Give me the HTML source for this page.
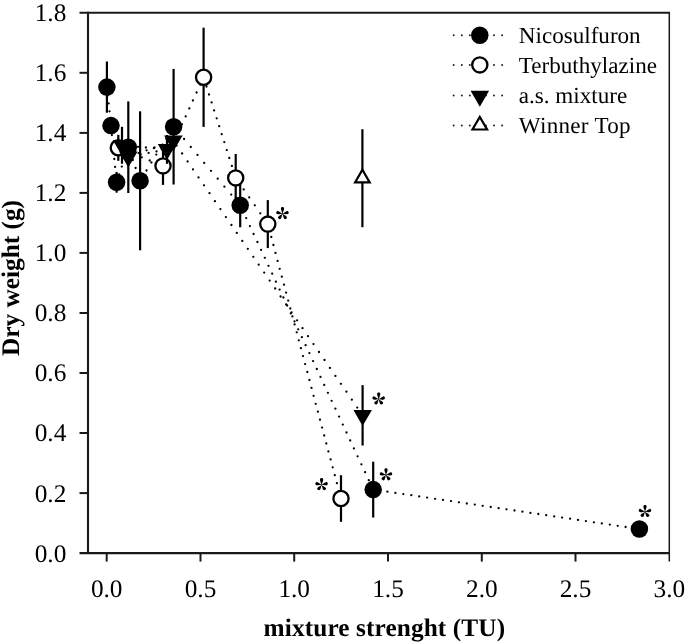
<!DOCTYPE html>
<html><head><meta charset="utf-8"><title>chart</title>
<style>
html,body{margin:0;padding:0;background:#fff;}
body{width:685px;height:643px;position:relative;overflow:hidden;font-family:"Liberation Serif",serif;color:#111;}
</style></head><body>
<svg width="685" height="643" viewBox="0 0 685 643" style="position:absolute;left:0;top:0;will-change:transform">
<rect width="685" height="643" fill="#fff"/>
<g fill="#000"><circle cx="106.9" cy="87.5" r="1.15"/><circle cx="107.8" cy="95.4" r="1.15"/><circle cx="108.6" cy="103.4" r="1.15"/><circle cx="109.5" cy="111.3" r="1.15"/><circle cx="110.3" cy="119.3" r="1.15"/><circle cx="111.2" cy="127.2" r="1.15"/><circle cx="111.9" cy="135.1" r="1.15"/><circle cx="112.7" cy="143.1" r="1.15"/><circle cx="113.5" cy="151.0" r="1.15"/><circle cx="114.3" cy="159.0" r="1.15"/><circle cx="115.1" cy="166.9" r="1.15"/><circle cx="115.9" cy="174.8" r="1.15"/><circle cx="119.2" cy="174.5" r="1.15"/><circle cx="121.8" cy="166.6" r="1.15"/><circle cx="124.5" cy="158.6" r="1.15"/><circle cx="127.1" cy="150.7" r="1.15"/><circle cx="130.0" cy="152.1" r="1.15"/><circle cx="132.8" cy="160.0" r="1.15"/><circle cx="135.6" cy="168.0" r="1.15"/><circle cx="138.4" cy="175.9" r="1.15"/><circle cx="141.6" cy="178.4" r="1.15"/><circle cx="146.5" cy="170.5" r="1.15"/><circle cx="151.4" cy="162.5" r="1.15"/><circle cx="156.3" cy="154.6" r="1.15"/><circle cx="161.3" cy="146.6" r="1.15"/><circle cx="166.2" cy="138.7" r="1.15"/><circle cx="171.1" cy="130.8" r="1.15"/><circle cx="177.3" cy="131.1" r="1.15"/><circle cx="184.1" cy="139.0" r="1.15"/><circle cx="190.8" cy="147.0" r="1.15"/><circle cx="197.5" cy="154.9" r="1.15"/><circle cx="204.2" cy="162.9" r="1.15"/><circle cx="211.0" cy="170.8" r="1.15"/><circle cx="217.7" cy="178.7" r="1.15"/><circle cx="224.4" cy="186.7" r="1.15"/><circle cx="231.2" cy="194.6" r="1.15"/><circle cx="237.9" cy="202.6" r="1.15"/><circle cx="242.5" cy="210.2" r="1.15"/><circle cx="246.2" cy="218.1" r="1.15"/><circle cx="249.9" cy="226.1" r="1.15"/><circle cx="253.6" cy="234.0" r="1.15"/><circle cx="257.4" cy="242.0" r="1.15"/><circle cx="261.1" cy="249.9" r="1.15"/><circle cx="264.8" cy="257.8" r="1.15"/><circle cx="268.5" cy="265.8" r="1.15"/><circle cx="272.2" cy="273.7" r="1.15"/><circle cx="275.9" cy="281.7" r="1.15"/><circle cx="279.6" cy="289.6" r="1.15"/><circle cx="283.4" cy="297.5" r="1.15"/><circle cx="287.1" cy="305.5" r="1.15"/><circle cx="290.8" cy="313.4" r="1.15"/><circle cx="294.5" cy="321.4" r="1.15"/><circle cx="298.2" cy="329.3" r="1.15"/><circle cx="301.9" cy="337.2" r="1.15"/><circle cx="305.6" cy="345.2" r="1.15"/><circle cx="309.4" cy="353.1" r="1.15"/><circle cx="313.1" cy="361.1" r="1.15"/><circle cx="316.8" cy="369.0" r="1.15"/><circle cx="320.5" cy="376.9" r="1.15"/><circle cx="324.2" cy="384.9" r="1.15"/><circle cx="327.9" cy="392.8" r="1.15"/><circle cx="331.6" cy="400.8" r="1.15"/><circle cx="335.4" cy="408.7" r="1.15"/><circle cx="339.1" cy="416.6" r="1.15"/><circle cx="342.8" cy="424.6" r="1.15"/><circle cx="346.5" cy="432.5" r="1.15"/><circle cx="350.2" cy="440.5" r="1.15"/><circle cx="353.9" cy="448.4" r="1.15"/><circle cx="357.6" cy="456.3" r="1.15"/><circle cx="361.4" cy="464.3" r="1.15"/><circle cx="365.1" cy="472.2" r="1.15"/><circle cx="368.8" cy="480.2" r="1.15"/><circle cx="372.5" cy="488.1" r="1.15"/><circle cx="379.5" cy="490.5" r="1.15"/><circle cx="387.4" cy="491.7" r="1.15"/><circle cx="395.4" cy="492.9" r="1.15"/><circle cx="403.3" cy="494.1" r="1.15"/><circle cx="411.3" cy="495.2" r="1.15"/><circle cx="419.2" cy="496.4" r="1.15"/><circle cx="427.1" cy="497.6" r="1.15"/><circle cx="435.1" cy="498.8" r="1.15"/><circle cx="443.0" cy="499.9" r="1.15"/><circle cx="451.0" cy="501.1" r="1.15"/><circle cx="458.9" cy="502.3" r="1.15"/><circle cx="466.8" cy="503.5" r="1.15"/><circle cx="474.8" cy="504.6" r="1.15"/><circle cx="482.7" cy="505.8" r="1.15"/><circle cx="490.7" cy="507.0" r="1.15"/><circle cx="498.6" cy="508.2" r="1.15"/><circle cx="506.5" cy="509.3" r="1.15"/><circle cx="514.5" cy="510.5" r="1.15"/><circle cx="522.4" cy="511.7" r="1.15"/><circle cx="530.4" cy="512.9" r="1.15"/><circle cx="538.3" cy="514.0" r="1.15"/><circle cx="546.2" cy="515.2" r="1.15"/><circle cx="554.2" cy="516.4" r="1.15"/><circle cx="562.1" cy="517.6" r="1.15"/><circle cx="570.1" cy="518.7" r="1.15"/><circle cx="578.0" cy="519.9" r="1.15"/><circle cx="585.9" cy="521.1" r="1.15"/><circle cx="593.9" cy="522.3" r="1.15"/><circle cx="601.8" cy="523.4" r="1.15"/><circle cx="609.8" cy="524.6" r="1.15"/><circle cx="617.7" cy="525.8" r="1.15"/><circle cx="625.6" cy="527.0" r="1.15"/><circle cx="633.6" cy="528.1" r="1.15"/></g>
<g stroke="#000" stroke-width="2.2" stroke-linecap="butt"><line x1="106.9" y1="61.5" x2="106.9" y2="112.7"/><line x1="116.6" y1="171.9" x2="116.6" y2="192.7"/><line x1="128.3" y1="101.4" x2="128.3" y2="193.0"/><line x1="140.1" y1="111.3" x2="140.1" y2="250.3"/><line x1="173.6" y1="68.9" x2="173.6" y2="184.5"/><line x1="240.2" y1="183.3" x2="240.2" y2="227.3"/><line x1="373.2" y1="461.7" x2="373.2" y2="517.5"/></g>
<circle cx="106.9" cy="87.1" r="8.75" fill="#000"/><circle cx="111.0" cy="125.6" r="8.75" fill="#000"/><circle cx="116.6" cy="182.3" r="8.75" fill="#000"/><circle cx="128.3" cy="147.2" r="8.75" fill="#000"/><circle cx="140.1" cy="180.8" r="8.75" fill="#000"/><circle cx="173.6" cy="126.7" r="8.75" fill="#000"/><circle cx="240.2" cy="205.3" r="8.75" fill="#000"/><circle cx="373.2" cy="489.6" r="8.75" fill="#000"/><circle cx="639.4" cy="529.0" r="8.75" fill="#000"/>
<g fill="#000"><circle cx="125.9" cy="150.9" r="1.15"/><circle cx="133.8" cy="154.1" r="1.15"/><circle cx="141.8" cy="157.3" r="1.15"/><circle cx="149.7" cy="160.5" r="1.15"/><circle cx="157.7" cy="163.7" r="1.15"/><circle cx="163.9" cy="164.0" r="1.15"/><circle cx="167.5" cy="156.1" r="1.15"/><circle cx="171.1" cy="148.1" r="1.15"/><circle cx="174.8" cy="140.2" r="1.15"/><circle cx="178.4" cy="132.2" r="1.15"/><circle cx="182.0" cy="124.3" r="1.15"/><circle cx="185.7" cy="116.4" r="1.15"/><circle cx="189.3" cy="108.4" r="1.15"/><circle cx="192.9" cy="100.5" r="1.15"/><circle cx="196.6" cy="92.5" r="1.15"/><circle cx="200.2" cy="84.6" r="1.15"/><circle cx="204.0" cy="78.6" r="1.15"/><circle cx="206.5" cy="86.5" r="1.15"/><circle cx="209.0" cy="94.5" r="1.15"/><circle cx="211.6" cy="102.4" r="1.15"/><circle cx="214.1" cy="110.4" r="1.15"/><circle cx="216.7" cy="118.3" r="1.15"/><circle cx="219.2" cy="126.2" r="1.15"/><circle cx="221.7" cy="134.2" r="1.15"/><circle cx="224.3" cy="142.1" r="1.15"/><circle cx="226.8" cy="150.1" r="1.15"/><circle cx="229.3" cy="158.0" r="1.15"/><circle cx="231.9" cy="165.9" r="1.15"/><circle cx="234.4" cy="173.9" r="1.15"/><circle cx="238.2" cy="181.5" r="1.15"/><circle cx="243.7" cy="189.4" r="1.15"/><circle cx="249.2" cy="197.4" r="1.15"/><circle cx="254.8" cy="205.3" r="1.15"/><circle cx="260.3" cy="213.3" r="1.15"/><circle cx="265.8" cy="221.2" r="1.15"/><circle cx="269.1" cy="229.1" r="1.15"/><circle cx="271.3" cy="237.0" r="1.15"/><circle cx="273.4" cy="245.0" r="1.15"/><circle cx="275.5" cy="252.9" r="1.15"/><circle cx="277.6" cy="260.9" r="1.15"/><circle cx="279.7" cy="268.8" r="1.15"/><circle cx="281.8" cy="276.7" r="1.15"/><circle cx="284.0" cy="284.7" r="1.15"/><circle cx="286.1" cy="292.6" r="1.15"/><circle cx="288.2" cy="300.6" r="1.15"/><circle cx="290.3" cy="308.5" r="1.15"/><circle cx="292.4" cy="316.4" r="1.15"/><circle cx="294.6" cy="324.4" r="1.15"/><circle cx="296.7" cy="332.3" r="1.15"/><circle cx="298.8" cy="340.3" r="1.15"/><circle cx="300.9" cy="348.2" r="1.15"/><circle cx="303.0" cy="356.1" r="1.15"/><circle cx="305.1" cy="364.1" r="1.15"/><circle cx="307.3" cy="372.0" r="1.15"/><circle cx="309.4" cy="380.0" r="1.15"/><circle cx="311.5" cy="387.9" r="1.15"/><circle cx="313.6" cy="395.8" r="1.15"/><circle cx="315.7" cy="403.8" r="1.15"/><circle cx="317.9" cy="411.7" r="1.15"/><circle cx="320.0" cy="419.7" r="1.15"/><circle cx="322.1" cy="427.6" r="1.15"/><circle cx="324.2" cy="435.5" r="1.15"/><circle cx="326.3" cy="443.5" r="1.15"/><circle cx="328.4" cy="451.4" r="1.15"/><circle cx="330.6" cy="459.4" r="1.15"/><circle cx="332.7" cy="467.3" r="1.15"/><circle cx="334.8" cy="475.2" r="1.15"/><circle cx="336.9" cy="483.2" r="1.15"/><circle cx="339.0" cy="491.1" r="1.15"/></g>
<g stroke="#000" stroke-width="2.2" stroke-linecap="butt"><line x1="118.3" y1="134.8" x2="118.3" y2="160.8"/><line x1="163.0" y1="146.9" x2="163.0" y2="184.9"/><line x1="203.6" y1="27.7" x2="203.6" y2="126.9"/><line x1="235.7" y1="154.0" x2="235.7" y2="201.8"/><line x1="267.8" y1="200.1" x2="267.8" y2="248.1"/><line x1="341.0" y1="475.2" x2="341.0" y2="521.8"/></g>
<circle cx="118.3" cy="147.8" r="7.60" fill="#fff" stroke="#000" stroke-width="2.3"/><circle cx="163.0" cy="165.9" r="7.60" fill="#fff" stroke="#000" stroke-width="2.3"/><circle cx="203.6" cy="77.3" r="7.60" fill="#fff" stroke="#000" stroke-width="2.3"/><circle cx="235.7" cy="177.9" r="7.60" fill="#fff" stroke="#000" stroke-width="2.3"/><circle cx="267.8" cy="224.1" r="7.60" fill="#fff" stroke="#000" stroke-width="2.3"/><circle cx="341.0" cy="498.5" r="7.60" fill="#fff" stroke="#000" stroke-width="2.3"/>
<g fill="#000"><circle cx="122.1" cy="145.3" r="1.15"/><circle cx="130.0" cy="146.0" r="1.15"/><circle cx="138.0" cy="146.8" r="1.15"/><circle cx="145.9" cy="147.5" r="1.15"/><circle cx="153.9" cy="148.2" r="1.15"/><circle cx="161.8" cy="148.9" r="1.15"/><circle cx="164.4" cy="149.9" r="1.15"/><circle cx="156.5" cy="151.4" r="1.15"/><circle cx="148.6" cy="152.9" r="1.15"/><circle cx="140.6" cy="154.4" r="1.15"/><circle cx="132.7" cy="156.0" r="1.15"/><circle cx="130.7" cy="155.9" r="1.15"/><circle cx="138.6" cy="153.1" r="1.15"/><circle cx="146.6" cy="150.3" r="1.15"/><circle cx="154.5" cy="147.5" r="1.15"/><circle cx="162.5" cy="144.7" r="1.15"/><circle cx="170.4" cy="141.8" r="1.15"/><circle cx="176.6" cy="145.6" r="1.15"/><circle cx="182.1" cy="153.5" r="1.15"/><circle cx="187.6" cy="161.5" r="1.15"/><circle cx="193.0" cy="169.4" r="1.15"/><circle cx="198.5" cy="177.4" r="1.15"/><circle cx="204.0" cy="185.3" r="1.15"/><circle cx="209.5" cy="193.2" r="1.15"/><circle cx="214.9" cy="201.2" r="1.15"/><circle cx="220.4" cy="209.1" r="1.15"/><circle cx="225.9" cy="217.1" r="1.15"/><circle cx="231.4" cy="225.0" r="1.15"/><circle cx="236.8" cy="232.9" r="1.15"/><circle cx="242.3" cy="240.9" r="1.15"/><circle cx="247.8" cy="248.8" r="1.15"/><circle cx="253.3" cy="256.8" r="1.15"/><circle cx="258.7" cy="264.7" r="1.15"/><circle cx="264.2" cy="272.6" r="1.15"/><circle cx="269.7" cy="280.6" r="1.15"/><circle cx="275.2" cy="288.5" r="1.15"/><circle cx="280.6" cy="296.5" r="1.15"/><circle cx="286.1" cy="304.4" r="1.15"/><circle cx="291.6" cy="312.3" r="1.15"/><circle cx="297.1" cy="320.3" r="1.15"/><circle cx="302.5" cy="328.2" r="1.15"/><circle cx="308.0" cy="336.2" r="1.15"/><circle cx="313.5" cy="344.1" r="1.15"/><circle cx="319.0" cy="352.0" r="1.15"/><circle cx="324.5" cy="360.0" r="1.15"/><circle cx="329.9" cy="367.9" r="1.15"/><circle cx="335.4" cy="375.9" r="1.15"/><circle cx="340.9" cy="383.8" r="1.15"/><circle cx="346.4" cy="391.7" r="1.15"/><circle cx="351.8" cy="399.7" r="1.15"/><circle cx="357.3" cy="407.6" r="1.15"/></g>
<g stroke="#000" stroke-width="2.2" stroke-linecap="butt"><line x1="122.0" y1="126.8" x2="122.0" y2="163.8"/><line x1="167.0" y1="135.0" x2="167.0" y2="163.8"/><line x1="362.6" y1="385.1" x2="362.6" y2="445.5"/></g>
<polygon points="112.8,140.0 131.2,140.0 122.0,156.0" fill="#000"/><polygon points="157.8,144.1 176.2,144.1 167.0,160.1" fill="#000"/><polygon points="119.1,151.5 137.6,151.5 128.3,167.5" fill="#000"/><polygon points="164.1,135.5 182.6,135.5 173.3,151.5" fill="#000"/><polygon points="353.4,410.0 371.9,410.0 362.6,426.0" fill="#000"/>
<g stroke="#000" stroke-width="2.2" stroke-linecap="butt"><line x1="362.4" y1="129.2" x2="362.4" y2="227.2"/></g>
<polygon points="355.1,182.4 369.7,182.4 362.4,169.8" fill="#fff" stroke="#000" stroke-width="2.2" stroke-linejoin="miter"/>
<g transform="translate(282.5,213.7) scale(1.02)" fill="#000"><path transform="rotate(0) scale(1,1.06)" d="M0,0.2 C-0.35,-1.6 -1.75,-3.6 -1.58,-5.0 C-1.4,-6.6 1.4,-6.6 1.58,-5.0 C1.75,-3.6 0.35,-1.6 0,0.2 Z"/><path transform="rotate(77)" d="M0,0.2 C-0.35,-1.6 -1.75,-3.6 -1.58,-5.0 C-1.4,-6.6 1.4,-6.6 1.58,-5.0 C1.75,-3.6 0.35,-1.6 0,0.2 Z"/><path transform="rotate(144)" d="M0,0.2 C-0.35,-1.6 -1.75,-3.6 -1.58,-5.0 C-1.4,-6.6 1.4,-6.6 1.58,-5.0 C1.75,-3.6 0.35,-1.6 0,0.2 Z"/><path transform="rotate(216)" d="M0,0.2 C-0.35,-1.6 -1.75,-3.6 -1.58,-5.0 C-1.4,-6.6 1.4,-6.6 1.58,-5.0 C1.75,-3.6 0.35,-1.6 0,0.2 Z"/><path transform="rotate(283)" d="M0,0.2 C-0.35,-1.6 -1.75,-3.6 -1.58,-5.0 C-1.4,-6.6 1.4,-6.6 1.58,-5.0 C1.75,-3.6 0.35,-1.6 0,0.2 Z"/><circle r="0.55"/></g>
<g transform="translate(378.7,399.1) scale(1.02)" fill="#000"><path transform="rotate(0) scale(1,1.06)" d="M0,0.2 C-0.35,-1.6 -1.75,-3.6 -1.58,-5.0 C-1.4,-6.6 1.4,-6.6 1.58,-5.0 C1.75,-3.6 0.35,-1.6 0,0.2 Z"/><path transform="rotate(77)" d="M0,0.2 C-0.35,-1.6 -1.75,-3.6 -1.58,-5.0 C-1.4,-6.6 1.4,-6.6 1.58,-5.0 C1.75,-3.6 0.35,-1.6 0,0.2 Z"/><path transform="rotate(144)" d="M0,0.2 C-0.35,-1.6 -1.75,-3.6 -1.58,-5.0 C-1.4,-6.6 1.4,-6.6 1.58,-5.0 C1.75,-3.6 0.35,-1.6 0,0.2 Z"/><path transform="rotate(216)" d="M0,0.2 C-0.35,-1.6 -1.75,-3.6 -1.58,-5.0 C-1.4,-6.6 1.4,-6.6 1.58,-5.0 C1.75,-3.6 0.35,-1.6 0,0.2 Z"/><path transform="rotate(283)" d="M0,0.2 C-0.35,-1.6 -1.75,-3.6 -1.58,-5.0 C-1.4,-6.6 1.4,-6.6 1.58,-5.0 C1.75,-3.6 0.35,-1.6 0,0.2 Z"/><circle r="0.55"/></g>
<g transform="translate(386.0,474.9) scale(1.02)" fill="#000"><path transform="rotate(0) scale(1,1.06)" d="M0,0.2 C-0.35,-1.6 -1.75,-3.6 -1.58,-5.0 C-1.4,-6.6 1.4,-6.6 1.58,-5.0 C1.75,-3.6 0.35,-1.6 0,0.2 Z"/><path transform="rotate(77)" d="M0,0.2 C-0.35,-1.6 -1.75,-3.6 -1.58,-5.0 C-1.4,-6.6 1.4,-6.6 1.58,-5.0 C1.75,-3.6 0.35,-1.6 0,0.2 Z"/><path transform="rotate(144)" d="M0,0.2 C-0.35,-1.6 -1.75,-3.6 -1.58,-5.0 C-1.4,-6.6 1.4,-6.6 1.58,-5.0 C1.75,-3.6 0.35,-1.6 0,0.2 Z"/><path transform="rotate(216)" d="M0,0.2 C-0.35,-1.6 -1.75,-3.6 -1.58,-5.0 C-1.4,-6.6 1.4,-6.6 1.58,-5.0 C1.75,-3.6 0.35,-1.6 0,0.2 Z"/><path transform="rotate(283)" d="M0,0.2 C-0.35,-1.6 -1.75,-3.6 -1.58,-5.0 C-1.4,-6.6 1.4,-6.6 1.58,-5.0 C1.75,-3.6 0.35,-1.6 0,0.2 Z"/><circle r="0.55"/></g>
<g transform="translate(321.6,484.8) scale(1.02)" fill="#000"><path transform="rotate(0) scale(1,1.06)" d="M0,0.2 C-0.35,-1.6 -1.75,-3.6 -1.58,-5.0 C-1.4,-6.6 1.4,-6.6 1.58,-5.0 C1.75,-3.6 0.35,-1.6 0,0.2 Z"/><path transform="rotate(77)" d="M0,0.2 C-0.35,-1.6 -1.75,-3.6 -1.58,-5.0 C-1.4,-6.6 1.4,-6.6 1.58,-5.0 C1.75,-3.6 0.35,-1.6 0,0.2 Z"/><path transform="rotate(144)" d="M0,0.2 C-0.35,-1.6 -1.75,-3.6 -1.58,-5.0 C-1.4,-6.6 1.4,-6.6 1.58,-5.0 C1.75,-3.6 0.35,-1.6 0,0.2 Z"/><path transform="rotate(216)" d="M0,0.2 C-0.35,-1.6 -1.75,-3.6 -1.58,-5.0 C-1.4,-6.6 1.4,-6.6 1.58,-5.0 C1.75,-3.6 0.35,-1.6 0,0.2 Z"/><path transform="rotate(283)" d="M0,0.2 C-0.35,-1.6 -1.75,-3.6 -1.58,-5.0 C-1.4,-6.6 1.4,-6.6 1.58,-5.0 C1.75,-3.6 0.35,-1.6 0,0.2 Z"/><circle r="0.55"/></g>
<g transform="translate(645.0,511.6) scale(1.02)" fill="#000"><path transform="rotate(0) scale(1,1.06)" d="M0,0.2 C-0.35,-1.6 -1.75,-3.6 -1.58,-5.0 C-1.4,-6.6 1.4,-6.6 1.58,-5.0 C1.75,-3.6 0.35,-1.6 0,0.2 Z"/><path transform="rotate(77)" d="M0,0.2 C-0.35,-1.6 -1.75,-3.6 -1.58,-5.0 C-1.4,-6.6 1.4,-6.6 1.58,-5.0 C1.75,-3.6 0.35,-1.6 0,0.2 Z"/><path transform="rotate(144)" d="M0,0.2 C-0.35,-1.6 -1.75,-3.6 -1.58,-5.0 C-1.4,-6.6 1.4,-6.6 1.58,-5.0 C1.75,-3.6 0.35,-1.6 0,0.2 Z"/><path transform="rotate(216)" d="M0,0.2 C-0.35,-1.6 -1.75,-3.6 -1.58,-5.0 C-1.4,-6.6 1.4,-6.6 1.58,-5.0 C1.75,-3.6 0.35,-1.6 0,0.2 Z"/><path transform="rotate(283)" d="M0,0.2 C-0.35,-1.6 -1.75,-3.6 -1.58,-5.0 C-1.4,-6.6 1.4,-6.6 1.58,-5.0 C1.75,-3.6 0.35,-1.6 0,0.2 Z"/><circle r="0.55"/></g>
<g stroke="#1a1a1a" fill="none">
<line x1="88.0" y1="11.8" x2="88.0" y2="554.1" stroke-width="2.1"/>
<line x1="79.5" y1="553.1" x2="670.0" y2="553.1" stroke-width="2.1"/>
<line x1="79.5" y1="12.8" x2="670.0" y2="12.8" stroke-width="2.0"/>
<line x1="669.3" y1="12.8" x2="669.3" y2="561.6" stroke-width="1.5"/>
<line x1="79.5" y1="493.1" x2="88.0" y2="493.1" stroke-width="2"/>
<line x1="79.5" y1="433.0" x2="88.0" y2="433.0" stroke-width="2"/>
<line x1="79.5" y1="373.0" x2="88.0" y2="373.0" stroke-width="2"/>
<line x1="79.5" y1="313.0" x2="88.0" y2="313.0" stroke-width="2"/>
<line x1="79.5" y1="252.9" x2="88.0" y2="252.9" stroke-width="2"/>
<line x1="79.5" y1="192.9" x2="88.0" y2="192.9" stroke-width="2"/>
<line x1="79.5" y1="132.9" x2="88.0" y2="132.9" stroke-width="2"/>
<line x1="79.5" y1="72.8" x2="88.0" y2="72.8" stroke-width="2"/>
<line x1="106.7" y1="553.1" x2="106.7" y2="561.6" stroke-width="2"/>
<line x1="200.5" y1="553.1" x2="200.5" y2="561.6" stroke-width="2"/>
<line x1="294.2" y1="553.1" x2="294.2" y2="561.6" stroke-width="2"/>
<line x1="388.0" y1="553.1" x2="388.0" y2="561.6" stroke-width="2"/>
<line x1="481.8" y1="553.1" x2="481.8" y2="561.6" stroke-width="2"/>
<line x1="575.5" y1="553.1" x2="575.5" y2="561.6" stroke-width="2"/>
</g>
<g fill="#222"><circle cx="453.7" cy="35.2" r="1.0"/><circle cx="461.8" cy="35.2" r="1.0"/><circle cx="469.8" cy="35.2" r="1.0"/><circle cx="477.9" cy="35.2" r="1.0"/><circle cx="485.9" cy="35.2" r="1.0"/><circle cx="494.0" cy="35.2" r="1.0"/><circle cx="502.1" cy="35.2" r="1.0"/></g>
<g fill="#222"><circle cx="453.7" cy="64.9" r="1.0"/><circle cx="461.8" cy="64.9" r="1.0"/><circle cx="469.8" cy="64.9" r="1.0"/><circle cx="477.9" cy="64.9" r="1.0"/><circle cx="485.9" cy="64.9" r="1.0"/><circle cx="494.0" cy="64.9" r="1.0"/><circle cx="502.1" cy="64.9" r="1.0"/></g>
<g fill="#222"><circle cx="453.7" cy="95.4" r="1.0"/><circle cx="461.8" cy="95.4" r="1.0"/><circle cx="469.8" cy="95.4" r="1.0"/><circle cx="477.9" cy="95.4" r="1.0"/><circle cx="485.9" cy="95.4" r="1.0"/><circle cx="494.0" cy="95.4" r="1.0"/><circle cx="502.1" cy="95.4" r="1.0"/></g>
<g fill="#222"><circle cx="453.7" cy="125.5" r="1.0"/><circle cx="461.8" cy="125.5" r="1.0"/><circle cx="469.8" cy="125.5" r="1.0"/><circle cx="477.9" cy="125.5" r="1.0"/><circle cx="485.9" cy="125.5" r="1.0"/><circle cx="494.0" cy="125.5" r="1.0"/><circle cx="502.1" cy="125.5" r="1.0"/></g>
<circle cx="479.8" cy="35.2" r="8.75" fill="#000"/>
<circle cx="479.8" cy="64.9" r="7.60" fill="#fff" stroke="#000" stroke-width="2.3"/>
<polygon points="470.6,90.7 489.1,90.7 479.8,106.7" fill="#000"/>
<polygon points="472.5,129.5 487.1,129.5 479.8,116.9" fill="#fff" stroke="#000" stroke-width="2.2" stroke-linejoin="miter"/>
<g font-family="Liberation Serif, serif" fill="#000" style="text-rendering:geometricPrecision"><text x="66.3" y="561.5" font-size="25.30" text-anchor="end">0.0</text><text x="66.3" y="501.5" font-size="25.30" text-anchor="end">0.2</text><text x="66.3" y="441.4" font-size="25.30" text-anchor="end">0.4</text><text x="66.3" y="381.4" font-size="25.30" text-anchor="end">0.6</text><text x="66.3" y="321.4" font-size="25.30" text-anchor="end">0.8</text><text x="66.3" y="261.3" font-size="25.30" text-anchor="end">1.0</text><text x="66.3" y="201.3" font-size="25.30" text-anchor="end">1.2</text><text x="66.3" y="141.3" font-size="25.30" text-anchor="end">1.4</text><text x="66.3" y="81.2" font-size="25.30" text-anchor="end">1.6</text><text x="66.3" y="21.2" font-size="25.30" text-anchor="end">1.8</text><text x="106.7" y="596.5" font-size="25.30" text-anchor="middle">0.0</text><text x="200.5" y="596.5" font-size="25.30" text-anchor="middle">0.5</text><text x="294.2" y="596.5" font-size="25.30" text-anchor="middle">1.0</text><text x="388.0" y="596.5" font-size="25.30" text-anchor="middle">1.5</text><text x="481.8" y="596.5" font-size="25.30" text-anchor="middle">2.0</text><text x="575.5" y="596.5" font-size="25.30" text-anchor="middle">2.5</text><text x="669.3" y="596.5" font-size="25.30" text-anchor="middle">3.0</text><text x="518.8" y="43.0" font-size="23.10" text-anchor="start">Nicosulfuron</text><text x="518.8" y="73.4" font-size="23.10" text-anchor="start">Terbuthylazine</text><text x="518.8" y="103.0" font-size="23.10" text-anchor="start">a.s. mixture</text><text x="518.8" y="132.8" font-size="23.10" text-anchor="start" letter-spacing="0.28">Winner Top</text><text x="263.6" y="635.6" font-size="25.30" text-anchor="start" font-weight="bold" letter-spacing="0.11">mixture strenght (TU)</text><text transform="translate(19.2,356.0) rotate(-90)" font-size="25.3" font-weight="bold">Dry weight (g)</text></g>
</svg>

</body></html>
